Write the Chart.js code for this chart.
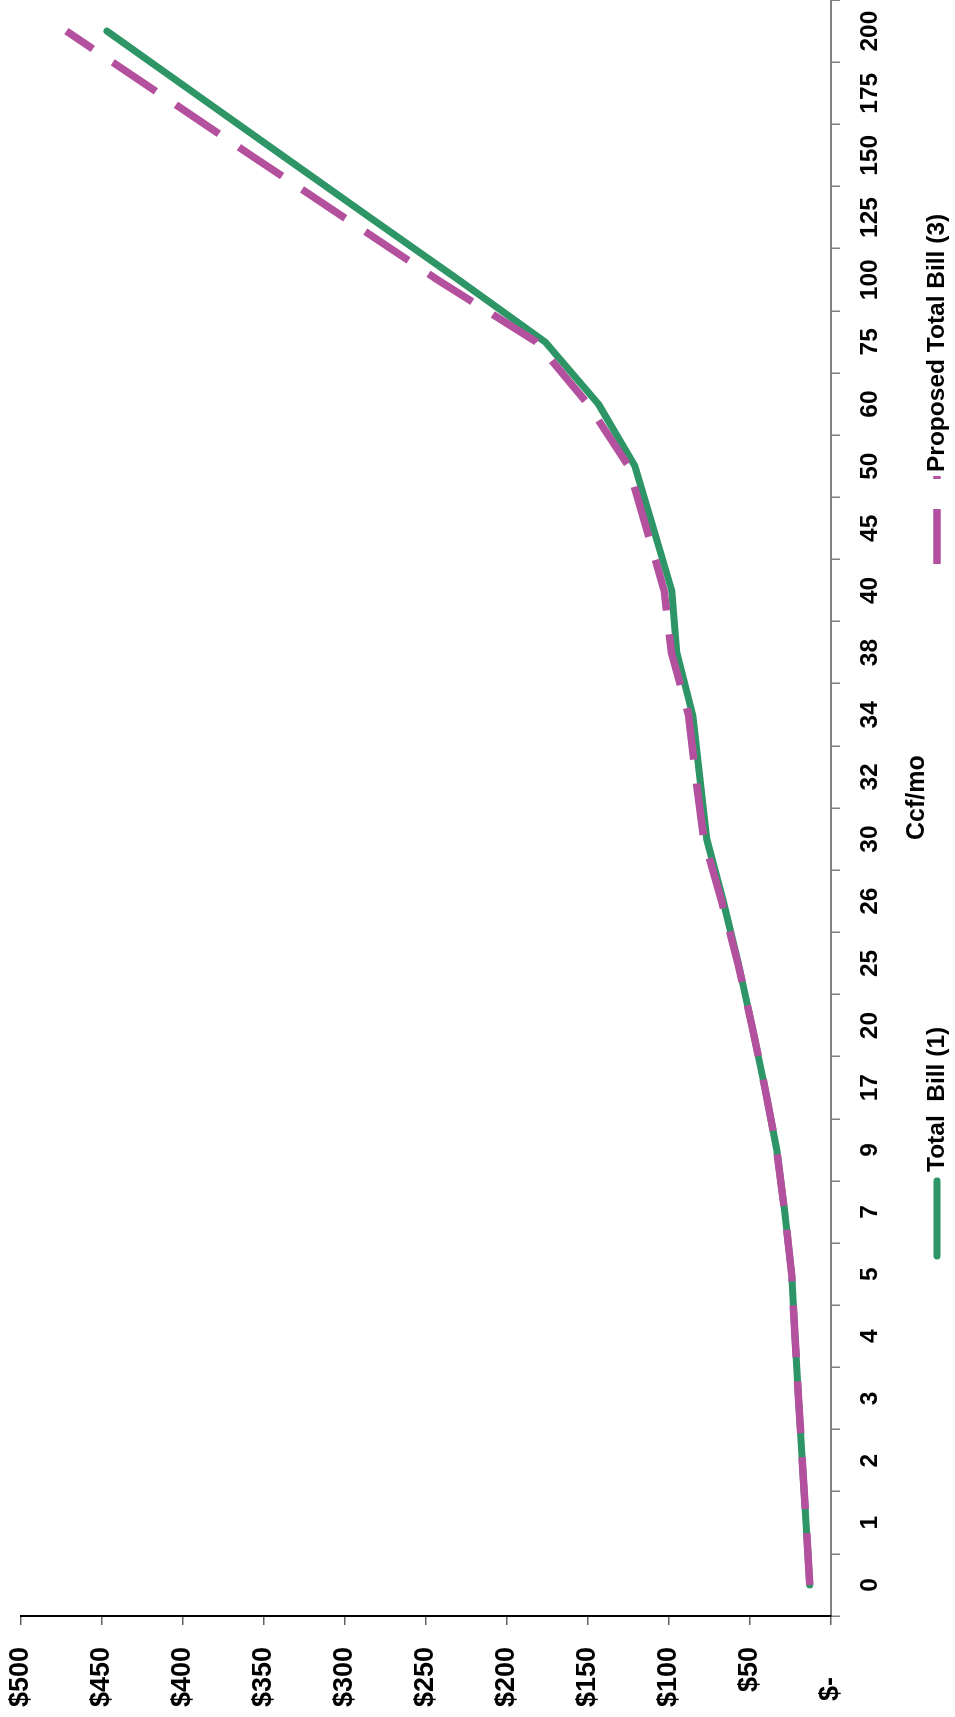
<!DOCTYPE html>
<html><head><meta charset="utf-8">
<script src="https://cdn.jsdelivr.net/npm/chart.js@4.4.1/dist/chart.umd.min.js"></script>
<style>
html,body{margin:0;padding:0;background:#fff;width:955px;height:1717px;overflow:hidden}
#wrap{position:absolute;left:0;top:0;width:1717px;height:955px;transform-origin:0 0;transform:translate(0px,1717px) rotate(-90deg);background:#fff}
canvas{display:block}
</style></head><body>
<div id="wrap"><canvas id="c" width="1717" height="955"></canvas></div>
<script>
// ---- data ----
const categories = ['0','1','2','3','4','5','7','9','17','20','25','26','30','32','34','38','40','45','50','60','75','100','125','150','175','200'];
const totalBill = [13.1,15.4,17.7,20.0,22.2,24.3,28.6,33.5,40.8,48.8,57.2,66.5,76.7,81.0,85.4,95.2,98.3,109.6,121.0,143.6,176.5,230.0,284.5,338.8,392.9,447.0];
const proposedBill = [13.1,15.4,17.7,20.0,22.2,24.3,28.6,33.5,40.8,48.8,57.5,67.5,78.5,83.5,88.0,98.5,103.0,114.0,125.0,150.0,182.0,243.0,300.5,358.0,415.0,472.0];
const seriesNames = ['Total  Bill (1)', 'Proposed Total Bill (3)'];
const valueTickLabels = ['$-    ','$50','$100','$150','$200','$250','$300','$350','$400','$450','$500'];
const axisTitle = '   Ccf/mo';

const FONT = '"Liberation Sans", Arial, sans-serif';
Chart.defaults.font.family = FONT;
Chart.defaults.color = '#000';

const GREEN = '#2E9666';
const MAGENTA = '#B4519F';

const sideLegend = {
  id: 'sideLegend',
  afterDraw(chart, args, opts) {
    const ctx = chart.ctx;
    const y = chart.height - 18;
    opts.items.forEach(it => {
      const ds = chart.data.datasets[it.dataset];
      ctx.save();
      ctx.strokeStyle = ds.borderColor;
      ctx.lineWidth = ds.borderWidth;
      ctx.lineCap = ds.borderCapStyle || 'butt';
      ctx.setLineDash(it.dash || []);
      ctx.beginPath(); ctx.moveTo(it.x1, y); ctx.lineTo(it.x2, y); ctx.stroke();
      ctx.setLineDash([]);
      ctx.fillStyle = '#000';
      ctx.font = 'bold 24.5px ' + FONT;
      ctx.textBaseline = 'middle'; ctx.textAlign = 'left';
      ctx.fillText(ds.label, it.tx, y);
      ctx.restore();
    });
  }
};

new Chart(document.getElementById('c'), {
  type: 'line',
  data: {
    labels: categories,
    datasets: [
      { label: seriesNames[0], data: totalBill, borderColor: GREEN, backgroundColor: GREEN,
        borderWidth: 7, borderCapStyle: 'round', borderJoinStyle: 'round', pointRadius: 0, tension: 0, order: 1 },
      { label: seriesNames[1], data: proposedBill, borderColor: MAGENTA, backgroundColor: MAGENTA,
        borderWidth: 7.5, borderDash: [52, 24], borderCapStyle: 'butt', pointRadius: 0, tension: 0, order: 0 }
    ]
  },
  options: {
    responsive: false,
    animation: false,
    layout: { padding: { top: 21, left: 0, right: 0, bottom: 0 } },
    plugins: {
      legend: { display: false },
      tooltip: { enabled: false },
      sideLegend: { items: [
        { dataset: 0, x1: 461, x2: 536, tx: 545 },
        { dataset: 1, x1: 1153, x2: 1241, tx: 1245, dash: [55, 30] }
      ] }
    },
    scales: {
      x: {
        type: 'category',
        offset: true,
        grid: { offset: true, drawOnChartArea: false, drawTicks: true, tickLength: 9, color: '#808080', lineWidth: 1.5 },
        border: { display: true, color: '#808080', width: 2 },
        ticks: { font: { size: 24.5, weight: 'bold' }, padding: 16, maxRotation: 0, autoSkip: false, color: '#000' },
        title: { display: true, text: axisTitle, font: { size: 25, weight: 'bold' }, padding: { top: 0, bottom: 23 }, color: '#000' },
        afterFit(scale) { scale.height = 124; scale.paddingLeft = 0; scale.paddingRight = 0; }
      },
      y: {
        min: 0, max: 500,
        grid: { drawOnChartArea: false, drawTicks: true, tickLength: 9, color: '#606060', lineWidth: 1.5 },
        border: { display: true, color: '#000', width: 2 },
        ticks: { stepSize: 50, font: { size: 27, weight: 'bold' }, padding: 22, color: '#000',
                 callback: (v, i) => valueTickLabels[i] },
        afterFit(scale) { scale.width = 101; scale.paddingTop = 0; scale.paddingBottom = 0; }
      }
    }
  },
  plugins: [sideLegend]
});
</script>
</body></html>
